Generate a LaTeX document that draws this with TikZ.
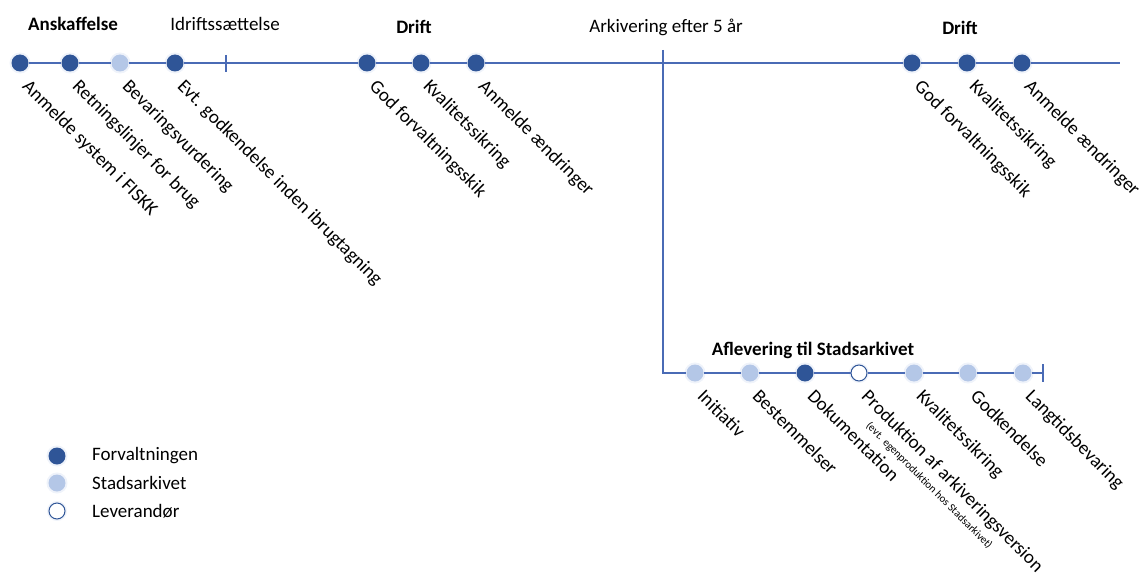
\documentclass[tikz,border=0pt]{standalone}
\usepackage{fontspec}
\setmainfont{Carlito}
\usetikzlibrary{positioning}

\definecolor{forv}{HTML}{2F5597}
\definecolor{stads}{HTML}{B4C7E7}
\definecolor{tline}{HTML}{4A6BB5}

\tikzset{
  dot/.style={circle,inner sep=0pt,minimum size=17pt,
    preaction={draw=stads!60,line width=4pt,opacity=0.35}},
  forvdot/.style={dot,fill=forv},
  stadsdot/.style={dot,fill=stads},
  levdot/.style={dot,fill=white,draw=forv,line width=1pt,minimum size=16pt},
  lbl/.style={rotate=-45,anchor=north west,inner sep=0pt,font=\fontsize{19}{21}\selectfont},
  head/.style={font=\fontsize{19}{21}\selectfont\bfseries},
  plain/.style={font=\fontsize{19}{21}\selectfont},
  tl/.style={tline,line width=1.4pt},
}

\begin{document}
\begin{tikzpicture}[x=1pt,y=-1pt]
\useasboundingbox (0,0) rectangle (1142,575);

% phases on the top line
\node[head]  at (73,24)  {Anskaffelse};
\node[plain] at (225,24) {Idriftssættelse};
\node[head]  at (414,27) {Drift};
\node[plain] at (666,27) {Arkivering efter 5 år};
\node[head]  at (960,28) {Drift};

\node[forvdot]  (a1) at (20,63)  {};
\node[forvdot]  (a2) at (70,63)  {};
\node[stadsdot] (a3) at (120,63) {};
\node[forvdot]  (a4) at (175,63) {};
\coordinate (t1) at (226,63);
\node[forvdot]  (b1) at (367,63) {};
\node[forvdot]  (b2) at (421,63) {};
\node[forvdot]  (b3) at (476,63) {};
\coordinate (split) at (663,63);
\node[forvdot]  (c1) at (912,63) {};
\node[forvdot]  (c2) at (967,63) {};
\node[forvdot]  (c3) at (1022,63) {};
\coordinate (mainend) at (1120,63);

\draw[tl] (a1) -- (a2) -- (a3) -- (a4) -- (t1) -- (b1) -- (b2) -- (b3)
  -- (split) -- (c1) -- (c2) -- (c3) -- (mainend);
\draw[tl] ([yshift=8pt]t1) -- ([yshift=-9pt]t1);

\node[lbl] at ([xshift=11pt,yshift=-15pt]a1) {Anmelde system i FISKK};
\node[lbl] at ([xshift=11pt,yshift=-15pt]a2) {Retningslinjer for brug};
\node[lbl] at ([xshift=11pt,yshift=-15pt]a3) {Bevaringsvurdering};
\node[lbl] at ([xshift=11pt,yshift=-15pt]a4) {Evt. godkendelse inden ibrugtagning};
\node[lbl] at ([xshift=11pt,yshift=-15pt]b1) {God forvaltningsskik};
\node[lbl] at ([xshift=11pt,yshift=-15pt]b2) {Kvalitetssikring};
\node[lbl] at ([xshift=11pt,yshift=-15pt]b3) {Anmelde ændringer};
\node[lbl] at ([xshift=11pt,yshift=-15pt]c1) {God forvaltningsskik};
\node[lbl] at ([xshift=11pt,yshift=-15pt]c2) {Kvalitetssikring};
\node[lbl] at ([xshift=11pt,yshift=-15pt]c3) {Anmelde ændringer};

% branch down to the delivery
\coordinate (splittop) at (663,50);
\coordinate (corner) at (663,373);
\node[head] at (813,350) {Aflevering til Stadsarkivet};
\node[stadsdot] (e1) at (695,373)  {};
\node[stadsdot] (e2) at (750,373)  {};
\node[forvdot]  (e3) at (805,373)  {};
\node[levdot]   (e4) at (859,373)  {};
\node[stadsdot] (e5) at (914,373)  {};
\node[stadsdot] (e6) at (968,373)  {};
\node[stadsdot] (e7) at (1023,373) {};
\coordinate (t2) at (1043,373);

\draw[tl] (splittop) -- (corner) -- (e1) -- (e2) -- (e3) -- (e4) -- (e5)
  -- (e6) -- (e7) -- (t2);
\draw[tl] ([yshift=9pt]t2) -- ([yshift=-9pt]t2);

\node[lbl] at ([xshift=11pt,yshift=-15pt]e1) {Initiativ};
\node[lbl] at ([xshift=11pt,yshift=-15pt]e2) {Bestemmelser};
\node[lbl] at ([xshift=11pt,yshift=-15pt]e3) {Dokumentation};
\node[lbl,align=left] at ([xshift=11pt,yshift=-15pt]e4)
  {Produktion af arkiveringsversion\\[-4pt]
   {\fontsize{11}{12}\selectfont\hspace*{24pt}(evt. egenproduktion hos Stadsarkivet)}};
\node[lbl] at ([xshift=11pt,yshift=-15pt]e5) {Kvalitetssikring};
\node[lbl] at ([xshift=11pt,yshift=-15pt]e6) {Godkendelse};
\node[lbl] at ([xshift=11pt,yshift=-15pt]e7) {Langtidsbevaring};

% legend
\node[forvdot]  (k1) at (57,456) {};
\node[stadsdot] (k2) at (57,483) {};
\node[levdot]   (k3) at (57,511) {};
\node[plain,anchor=west,inner sep=0pt] at (92,456) {Forvaltningen};
\node[plain,anchor=west,inner sep=0pt] at (92,483) {Stadsarkivet};
\node[plain,anchor=west,inner sep=0pt] at (92,511) {Leverandør};
\end{tikzpicture}
\end{document}
